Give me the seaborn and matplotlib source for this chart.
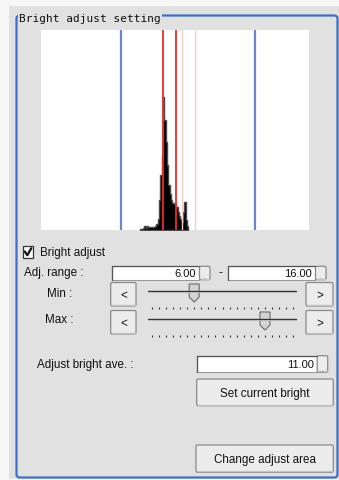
import matplotlib
matplotlib.use("Agg")
import matplotlib.pyplot as plt
from matplotlib.patches import Rectangle, FancyBboxPatch, Polygon
import numpy as np
import seaborn as sns

# histogram of brightness (bin left edges, counts)
bin_left = [7.4, 7.5, 7.6, 7.7, 7.8, 7.9, 8.0, 8.1, 8.2, 8.3, 8.4, 8.5, 8.6, 8.7,
            8.8, 8.9, 9.0, 9.1, 9.2, 9.3, 9.4, 9.5, 9.6, 9.7, 9.8, 9.9, 10.0,
            10.1, 10.2, 10.3, 10.4, 10.5, 10.6, 10.7, 10.8, 10.9]
counts = [1, 1, 2, 4, 2, 4, 3, 3, 3, 3, 3, 4, 6, 11,
          30, 55, 75, 133, 110, 88, 65, 45, 36, 30, 27, 26, 26,
          23, 18, 14, 11, 8, 18, 28, 10, 4]
bin_width = 0.1

adj_range = [6.00, 16.00]       # blue lines / sliders
current_lines = [9.1, 10.1]      # red lines
ave_band = [10.5, 11.5]          # pale lines
adjust_ave = 11.00
slider_max = 20

BG = "#e1e1e1"
BLUE = "#3f6fc6"
EDGE = "#8a8a8a"
FONT = ["Liberation Sans", "DejaVu Sans"]
FS = 8.4

sns.set_theme(style="white")
plt.rcParams["font.family"] = FONT

fig = plt.figure(figsize=(3.39, 4.81), dpi=100)
fig.patch.set_facecolor("#f7f7f7")

ui = fig.add_axes([0, 0, 1, 1])
ui.set_xlim(0, 339)
ui.set_ylim(481, 0)
ui.axis("off")

ui.add_patch(Rectangle((9, 7), 330, 473, facecolor=BG, edgecolor="none"))
ui.add_patch(FancyBboxPatch((16.5, 16.5), 321, 462, boxstyle="round,pad=0,rounding_size=3",
                            facecolor="none", edgecolor=BLUE, lw=1.6))
ui.text(19, 19.5, "Bright adjust setting", family=["DejaVu Sans Mono"], fontsize=8,
        va="center", ha="left", color="#111111",
        bbox=dict(facecolor=BG, edgecolor="none", pad=0.6))


def button(x0, y0, x1, y1, label=None, size=FS):
    ui.add_patch(FancyBboxPatch((x0, y0), x1 - x0, y1 - y0,
                                boxstyle="round,pad=0,rounding_size=1.5",
                                facecolor="#ececec", edgecolor=EDGE, lw=0.9))
    ui.plot([x0 + 1, x1 - 1], [y1 - 1.2, y1 - 1.2], color="#c4c4c4", lw=1)
    if label:
        ui.text((x0 + x1) / 2, (y0 + y1) / 2 + 0.5, label, fontsize=size,
                ha="center", va="center", color="#111111")


def textbox(x0, y0, x1, y1, value):
    ui.add_patch(Rectangle((x0, y0), x1 - x0, y1 - y0, facecolor="white",
                           edgecolor="#9a9a9a", lw=0.8))
    ui.plot([x0, x0, x1], [y1, y0, y0], color="#555555", lw=0.9)
    ui.text(x1 - 3, (y0 + y1) / 2 + 0.5, f"{value:.2f}", fontsize=8,
            ha="right", va="center", color="#111111")
    button(x1 + 0.5, y0, x1 + 11, y1)
    ui.text(x1 + 5.8, y1 - 3, "...", fontsize=4, ha="center", va="center", color="#777777")


def slider(yc, value):
    button(110.7, yc - 8.5, 136, yc + 15, "<", 8.5)
    button(306, yc - 8.5, 333, yc + 15, ">", 8.5)
    ui.plot([148, 296], [yc, yc], color="#333333", lw=1.0)
    ui.plot([148, 296], [yc + 1.2, yc + 1.2], color="#bbbbbb", lw=0.6)
    tx = np.linspace(151.7, 293.3, slider_max + 1)
    ui.vlines(tx, yc + 15.5, yc + 18, color="#333333", lw=0.8)
    cx = 151.7 + (293.3 - 151.7) * value / slider_max
    ui.add_patch(Polygon([[cx - 5, yc - 7], [cx + 5, yc - 7], [cx + 5, yc + 6],
                          [cx, yc + 11], [cx - 5, yc + 6]], closed=True,
                         facecolor="#d4d4d4", edgecolor="#6a6a6a", lw=0.8))


# checkbox
ui.add_patch(Rectangle((22.7, 247.3), 10.6, 11.4, facecolor="white", edgecolor="#333333", lw=0.9))
ui.plot([24.8, 27.3, 31.3], [252.5, 256.3, 249.2], color="#111111", lw=1.6)
ui.text(40, 253, "Bright adjust", fontsize=FS, ha="left", va="center", color="#111111")

ui.text(24, 273.5, "Adj. range :", fontsize=FS, ha="left", va="center", color="#111111")
textbox(112.3, 267.3, 199, 280.7, adj_range[0])
ui.text(220, 273, "-", fontsize=FS, ha="center", va="center", color="#111111")
textbox(227.7, 267.3, 315, 280.7, adj_range[1])

ui.text(46.7, 294, "Min :", fontsize=FS, ha="left", va="center", color="#111111")
slider(292, adj_range[0])
ui.text(45, 320, "Max :", fontsize=FS, ha="left", va="center", color="#111111")
slider(320, adj_range[1])

ui.text(36.7, 365, "Adjust bright ave. :", fontsize=FS, ha="left", va="center", color="#111111")
textbox(197.3, 356.7, 316.7, 373.3, adjust_ave)
button(196.7, 380, 333.3, 406.7, "Set current bright")
button(196, 446, 333.3, 473.3, "Change adjust area")

# histogram panel
ax = fig.add_axes([41 / 339, 1 - 231 / 481, 268 / 339, 200 / 481])
ax.set_facecolor("white")
edges = list(bin_left) + [bin_left[-1] + bin_width]
centers = [b + bin_width / 2 for b in bin_left]
sns.histplot(x=centers, weights=counts, bins=edges, ax=ax, element="step", fill=True,
             color="black", edgecolor="#4a4a4a", linewidth=1.0, alpha=1.0)
for v in ave_band:
    ax.axvline(v, color="#f6cccc", lw=1.0)
for v in adj_range:
    ax.axvline(v, color="#6f86c9", lw=1.6)
for v in current_lines:
    ax.axvline(v, color="#ee2a2a", lw=1.3)
ax.set_xlim(0, 20)
ax.set_ylim(0, 200)
ax.set_xticks([])
ax.set_yticks([])
ax.set_xlabel("")
ax.set_ylabel("")
for s in ax.spines.values():
    s.set_visible(False)

fig.savefig("out.png", dpi=100)
